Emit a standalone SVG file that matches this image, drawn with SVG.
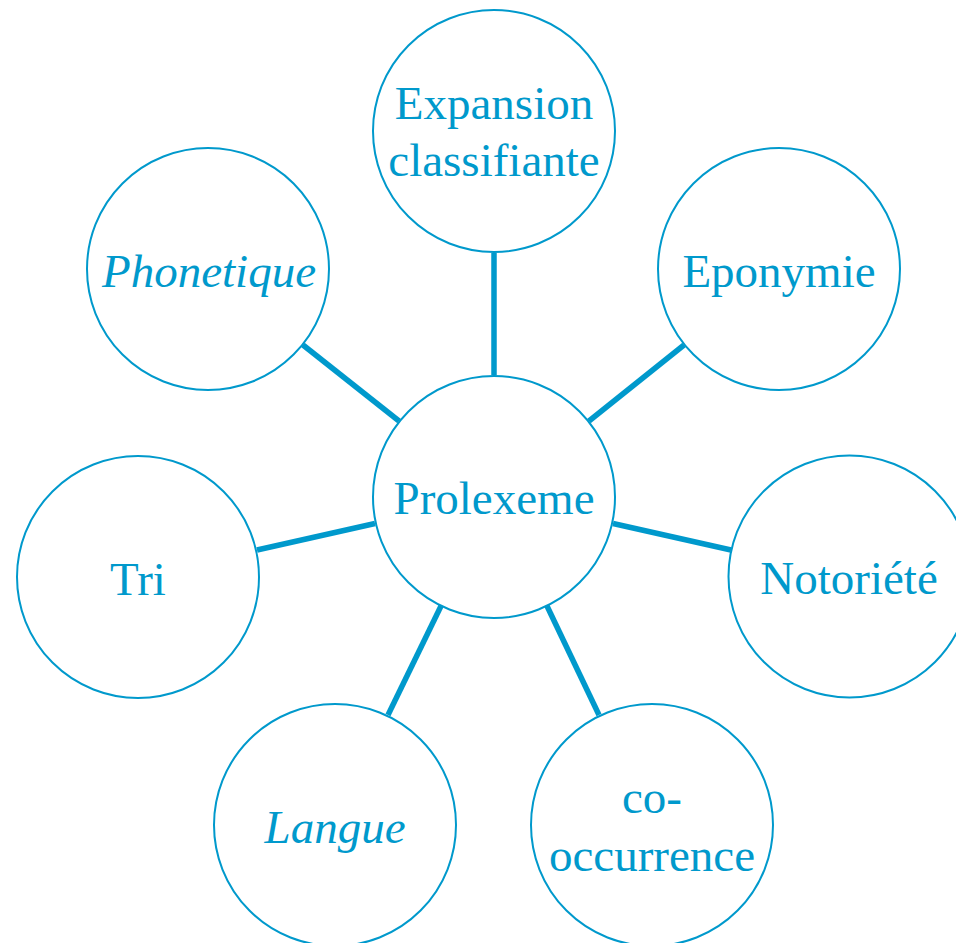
<svg xmlns="http://www.w3.org/2000/svg" width="956" height="943" viewBox="0 0 956 943">
<style>
.n{fill:#fff;stroke:#0099cc;stroke-width:2}
.t{fill:#0099cc;font-family:"Liberation Serif","Times New Roman",serif;font-size:47px;text-anchor:middle}
.i{font-style:italic}
.c{stroke:#0099cc;stroke-width:5.5;fill:none}
</style>
<rect width="956" height="943" fill="#fff"/>
<g id="connectors">
<line class="c" x1="494" y1="375" x2="494" y2="253"/>
<line class="c" x1="589" y1="421" x2="684" y2="345"/>
<line class="c" x1="399" y1="421" x2="303" y2="345"/>
<line class="c" x1="375" y1="523.5" x2="257" y2="550"/>
<line class="c" x1="613" y1="523.5" x2="731" y2="550"/>
<line class="c" x1="441" y1="606" x2="388" y2="715"/>
<line class="c" x1="547" y1="606" x2="599" y2="715"/>
</g>
<g id="prolexeme"><circle class="n" cx="494" cy="497" r="121"/><text class="t" x="494" y="514">Prolexeme</text></g>
<g id="expansion"><circle class="n" cx="494" cy="131" r="121"/><text class="t" x="494" y="119">Expansion</text><text class="t" x="494" y="176">classifiante</text></g>
<g id="eponymie"><circle class="n" cx="779" cy="269" r="121"/><text class="t" x="779" y="287">Eponymie</text></g>
<g id="phonetique"><circle class="n" cx="208" cy="269" r="121"/><text class="t i" x="209" y="287">Phonetique</text></g>
<g id="tri"><circle class="n" cx="138" cy="577" r="121"/><text class="t" x="138" y="595">Tri</text></g>
<g id="notoriete"><circle class="n" cx="849.5" cy="576.5" r="121"/><text class="t" x="849" y="594">Notoriété</text></g>
<g id="langue"><circle class="n" cx="335" cy="825" r="121"/><text class="t i" x="335" y="843">Langue</text></g>
<g id="cooccurrence"><circle class="n" cx="652" cy="825" r="121"/><text class="t" x="652" y="813">co-</text><text class="t" x="652" y="871">occurrence</text></g>
</svg>
